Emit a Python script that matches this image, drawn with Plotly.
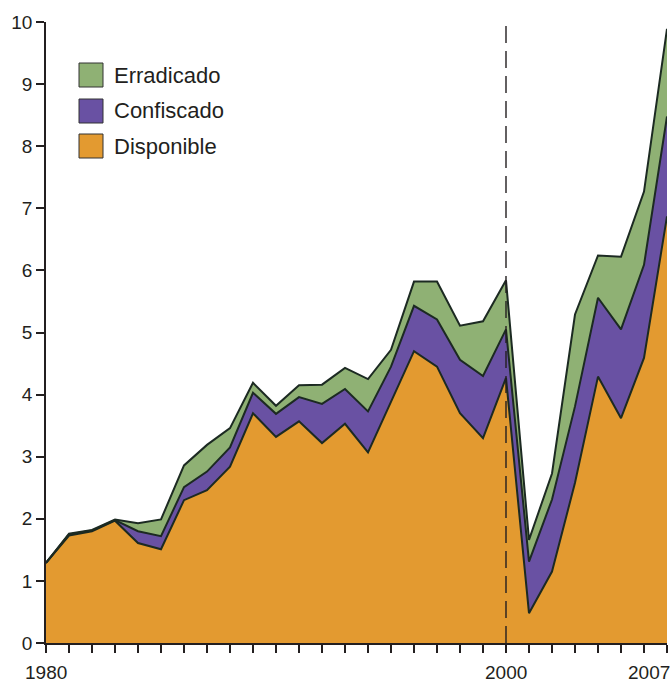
import plotly.graph_objects as go

years = list(range(1980, 2008))
disponible = [1.29, 1.73, 1.80, 1.97, 1.61, 1.51, 2.30, 2.46, 2.84, 3.70, 3.32, 3.57, 3.22, 3.53,
              3.07, 3.88, 4.70, 4.45, 3.70, 3.30, 4.27, 0.48, 1.15, 2.58, 4.29, 3.62, 4.59, 6.87]
confiscado = [0.00, 0.02, 0.01, 0.01, 0.19, 0.21, 0.21, 0.30, 0.31, 0.33, 0.37, 0.39, 0.63, 0.56,
              0.66, 0.57, 0.73, 0.76, 0.86, 1.00, 0.78, 0.83, 1.16, 1.23, 1.27, 1.43, 1.50, 1.61]
erradicado = [0.00, 0.01, 0.01, 0.01, 0.13, 0.27, 0.35, 0.43, 0.31, 0.16, 0.13, 0.19, 0.31, 0.34,
              0.52, 0.27, 0.39, 0.61, 0.55, 0.88, 0.79, 0.35, 0.42, 1.48, 0.68, 1.17, 1.18, 1.41]

series_names = ["Disponible", "Confiscado", "Erradicado"]
series_values = [disponible, confiscado, erradicado]
series_colors = ["#E39A30", "#6951A3", "#8FB174"]

x_tick_labels = {1980: "1980", 2000: "2000", 2007: "2007"}
y_ticks = list(range(0, 11))
marker_year = 2000

LINE = "#1c2a22"
TXT = "#231f20"
FONT = "Liberation Sans, Arial, sans-serif"

FIG_W, FIG_H = 672, 682
L, T = 46.0, 22.0
W, H = 621.0, 621.0

fig = go.Figure()
for name, vals, col in zip(series_names, series_values, series_colors):
    fig.add_trace(go.Scatter(
        x=years, y=vals, name=name, mode="lines", stackgroup="one",
        line=dict(color=LINE, width=2), fillcolor=col, showlegend=False,
        hoverinfo="skip",
    ))

# dashed reference line at 2000
fig.add_shape(type="line", xref="x", yref="y", x0=marker_year, x1=marker_year, y0=0, y1=10.1,
              line=dict(color=TXT, width=1.4, dash="17px,8px"), layer="above")

# x tick labels as annotations
for yr, lab in x_tick_labels.items():
    anchor = "center"
    xs = 0
    if yr == years[-1]:
        anchor = "right"
        xs = 5
    fig.add_annotation(x=yr, y=0, xref="x", yref="paper", text=lab, showarrow=False,
                       xanchor=anchor, yanchor="middle", yshift=-29, xshift=xs,
                       font=dict(family=FONT, size=19, color=TXT))

# manual legend (top-down: Erradicado, Confiscado, Disponible), page pixel positions
centers = [75, 111, 146]
for (name, col), cy in zip(list(zip(series_names, series_colors))[::-1], centers):
    x0 = (79 - L) / W
    x1 = (103 - L) / W
    y0 = (643 - (cy + 12)) / H
    y1 = (643 - (cy - 12)) / H
    fig.add_shape(type="rect", xref="paper", yref="paper", x0=x0, x1=x1, y0=y0, y1=y1,
                  fillcolor=col, line=dict(color="#333333", width=1))
    fig.add_annotation(x=(112 - L) / W, y=(643 - cy) / H, xref="paper", yref="paper",
                       text=name, showarrow=False, xanchor="left", yanchor="middle",
                       font=dict(family=FONT, size=22, color=TXT))

fig.update_layout(
    width=FIG_W, height=FIG_H,
    margin=dict(l=L, r=FIG_W - L - W, t=T, b=FIG_H - T - H, autoexpand=False),
    paper_bgcolor="white", plot_bgcolor="white",
    font=dict(family=FONT, size=19, color=TXT),
    hovermode=False,
    xaxis=dict(range=[1980, 2007], tickvals=years, ticktext=[""] * len(years),
               ticks="outside", ticklen=8, tickwidth=1.5, tickcolor=TXT,
               showline=True, linecolor=TXT, linewidth=1.5,
               showgrid=False, zeroline=False, fixedrange=True),
    yaxis=dict(range=[0, 10], tickvals=y_ticks, ticks="outside", ticklen=8,
               tickwidth=1.5, tickcolor=TXT, showline=True, linecolor=TXT, linewidth=1.5,
               showgrid=False, zeroline=False, tickfont=dict(size=19), fixedrange=True),
)

fig.write_html(
    "out.html",
    config={"displayModeBar": False},
    post_script="document.body.style.margin='0';document.body.style.overflow='hidden';",
)
